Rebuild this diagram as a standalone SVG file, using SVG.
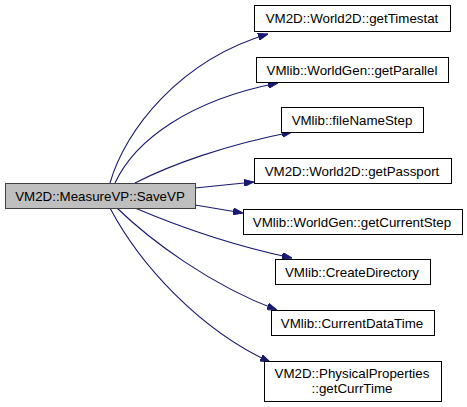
<svg xmlns="http://www.w3.org/2000/svg" width="467" height="407" viewBox="0 0 467 407">
<style>
.n rect{fill:#ffffff;stroke:#000000;stroke-width:1}
#main rect{fill:#bfbfbf;stroke:#404040}
text{font-family:"Liberation Sans",Arial,sans-serif;font-size:13.33px;fill:#000;text-anchor:middle}
.e path{fill:none;stroke:#191970;stroke-width:1.1;marker-end:url(#ah)}
</style>
<defs>
<marker id="ah" viewBox="0 0 10 7" refX="10" refY="3.5" markerWidth="10" markerHeight="7" orient="auto" markerUnits="userSpaceOnUse">
<path d="M0,0 L10,3.5 L0,7 Z" fill="#191970" stroke="#191970"/>
</marker>
</defs>
<rect width="467" height="407" fill="#ffffff"/>
<g class="e" id="edges">
<path d="M110,183 C125,130 180,60 268,34"/>
<path d="M115,183 C135,140 190,100 278,83"/>
<path d="M135,183 C170,165 225,145 292,132"/>
<path d="M195,188 L254,182"/>
<path d="M195,205 L243,213"/>
<path d="M135,208 C175,225 230,245 292,258"/>
<path d="M117,208 C150,240 210,285 277,310"/>
<path d="M110,208 C140,265 200,330 270,362"/>
</g>
<g class="n" id="main"><rect x="5.5" y="183.5" width="190" height="25"/><text x="100" y="200.5">VM2D::MeasureVP::SaveVP</text></g>
<g class="n" id="n1"><rect x="254.5" y="5.5" width="196" height="26"/><text x="352" y="23">VM2D::World2D::getTimestat</text></g>
<g class="n" id="n2"><rect x="256.5" y="57.5" width="192" height="25"/><text x="352" y="74.5">VMlib::WorldGen::getParallel</text></g>
<g class="n" id="n3"><rect x="281.5" y="107.5" width="142" height="25"/><text x="352" y="124.5">VMlib::fileNameStep</text></g>
<g class="n" id="n4"><rect x="254.5" y="158.5" width="197" height="25"/><text x="352" y="175.5">VM2D::World2D::getPassport</text></g>
<g class="n" id="n5"><rect x="243.5" y="209.5" width="219" height="25"/><text x="352" y="226.5">VMlib::WorldGen::getCurrentStep</text></g>
<g class="n" id="n6"><rect x="275.5" y="259.5" width="155" height="25"/><text x="352" y="276.5">VMlib::CreateDirectory</text></g>
<g class="n" id="n7"><rect x="271.5" y="310.5" width="163" height="25"/><text x="352" y="327.5">VMlib::CurrentDataTime</text></g>
<g class="n" id="n8"><rect x="264.5" y="361.5" width="177" height="40"/><text x="352" y="377.5">VM2D::PhysicalProperties</text><text x="352" y="392.5">::getCurrTime</text></g>
</svg>
